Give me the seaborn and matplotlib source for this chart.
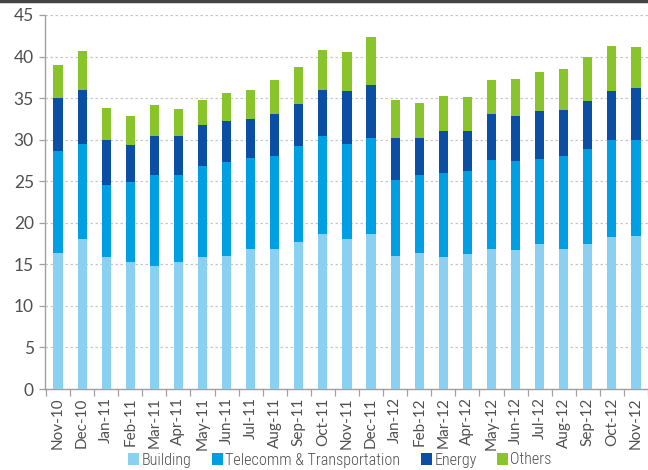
import numpy as np
import pandas as pd
import matplotlib
matplotlib.use("Agg")
import matplotlib.pyplot as plt
import seaborn as sns
from matplotlib.patches import Patch
from matplotlib.lines import Line2D
from matplotlib import font_manager as fm

months = ["Nov-10", "Dec-10", "Jan-11", "Feb-11", "Mar-11", "Apr-11", "May-11", "Jun-11",
          "Jul-11", "Aug-11", "Sep-11", "Oct-11", "Nov-11", "Dec-11", "Jan-12", "Feb-12",
          "Mar-12", "Apr-12", "May-12", "Jun-12", "Jul-12", "Aug-12", "Sep-12", "Oct-12", "Nov-12"]
building = [16.4, 18.1, 15.9, 15.3, 14.8, 15.3, 15.9, 16.0, 16.8, 16.8, 17.7, 18.7,
            18.0, 18.6, 16.0, 16.4, 15.9, 16.3, 16.9, 16.7, 17.4, 16.9, 17.4, 18.3, 18.4]
telecomm = [12.2, 11.4, 8.6, 9.6, 10.9, 10.5, 10.9, 11.3, 11.0, 11.2, 11.5, 11.7,
            11.5, 11.6, 9.1, 9.4, 10.1, 9.9, 10.7, 10.7, 10.3, 11.1, 11.5, 11.7, 11.6]
energy = [6.4, 6.5, 5.4, 4.4, 4.7, 4.6, 5.0, 5.0, 4.7, 5.1, 5.1, 5.6,
          6.3, 6.4, 5.1, 4.4, 5.0, 4.9, 5.5, 5.5, 5.7, 5.6, 5.7, 5.8, 6.2]
others = [4.0, 4.7, 3.9, 3.6, 3.8, 3.3, 3.0, 3.3, 3.5, 4.1, 4.5, 4.8,
          4.8, 5.7, 4.6, 4.2, 4.3, 4.0, 4.1, 4.4, 4.7, 4.9, 5.3, 5.5, 5.0]
series_names = ["Building", "Telecomm & Transportation", "Energy", "Others"]
colors = ["#8ad0f0", "#009ee2", "#0a4fa3", "#89c42c"]
yticks = [0, 5, 10, 15, 20, 25, 30, 35, 40, 45]

sns.set_theme(style="ticks")
plt.rcParams["font.family"] = ["Lato", "DejaVu Sans"]

# pick a narrow font for the legend if one is installed
legend_prop = None
prefs = ["LiberationSansNarrow-Regular", "RobotoCondensed-Light", "RobotoCondensed-Regular",
         "OpenSans_Condensed-Light", "OpenSansCondensed-Light", "DejaVuSansCondensed."]
files = [f.fname for f in fm.fontManager.ttflist]
for p in prefs:
    hits = [f for f in files if p.lower() in f.lower().replace(" ", "")]
    if hits:
        legend_prop = fm.FontProperties(fname=hits[0], size=11.6)
        break
if legend_prop is None:
    legend_prop = fm.FontProperties(family="Lato", size=10.5)

df = pd.DataFrame({"month": months, "Building": building, "Telecomm & Transportation": telecomm,
                   "Energy": energy, "Others": others})
cum = df[series_names].cumsum(axis=1)

fig = plt.figure(figsize=(6.48, 4.70), dpi=100)
ax = fig.add_axes([45/648, 1 - 389/470, 1 - 45/648, (389 - 15)/470])

for name, col in reversed(list(zip(series_names, colors))):
    sns.barplot(x=df["month"], y=cum[name], color=col, width=0.38, ax=ax,
                saturation=1, edgecolor="none", linewidth=0, zorder=3)

ax.set_xlim(-0.54, 24.37)
ax.set_ylim(0, 45)
ax.set_yticks(yticks)
ax.set_yticklabels([str(v) for v in yticks], fontsize=12.5, color="#505050")
ax.set_xlabel("")
ax.set_ylabel("")
ax.set_xticks(range(len(months)))
ax.set_xticklabels(months, rotation=90, fontsize=11, color="#505050")
ax.tick_params(axis="x", which="major", length=0, pad=6, bottom=True)
ax.tick_params(axis="y", which="major", length=4, width=0.9, color="#a0a0a0", left=True, pad=4)
ax.set_xticks(np.arange(-0.5, len(months), 1), minor=True)
ax.tick_params(axis="x", which="minor", length=5, width=0.9, color="#a0a0a0", bottom=True)

ax.grid(axis="y", which="major", linestyle=(0, (2, 2)), color="#c8c8c8", linewidth=0.9, zorder=0)
ax.set_axisbelow(True)
for s in ["top", "right"]:
    ax.spines[s].set_visible(False)
for s in ["left", "bottom"]:
    ax.spines[s].set_color("#a0a0a0")
    ax.spines[s].set_linewidth(1.0)

handles = [Patch(facecolor=c, edgecolor="none", label=n) for n, c in zip(series_names, colors)]
leg = fig.legend(handles=handles, loc="center", bbox_to_anchor=(340/648, 1 - 460/470), ncol=4,
                 frameon=False, prop=legend_prop, handlelength=0.7,
                 handleheight=0.7, handletextpad=0.15, columnspacing=1.25)
for t in leg.get_texts():
    t.set_color("#505050")

fig.add_artist(Line2D([0, 1], [1 - 1/470, 1 - 1/470], color="#444444", linewidth=2.5,
                      transform=fig.transFigure))

fig.savefig("out.png", dpi=100)
